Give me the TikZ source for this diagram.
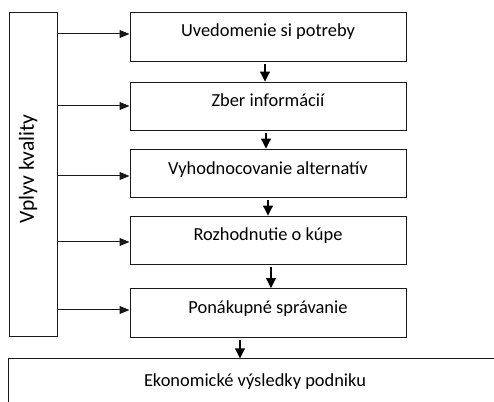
\documentclass[tikz,border=0pt]{standalone}
\usepackage{fontspec}
\setmainfont{Carlito}
\usetikzlibrary{arrows.meta,calc}
\begin{document}
\begin{tikzpicture}[x=0.75pt,y=-0.75pt,
  stepbox/.style={draw=black!90, line width=0.75pt, minimum width=207pt, minimum height=36.4pt, inner sep=0pt},
  sidebox/.style={draw=black!90, line width=0.75pt, minimum width=36.2pt, minimum height=243pt, inner sep=0pt},
  txt/.style={anchor=base, inner sep=0pt, font=\fontsize{13.8}{16}\selectfont},
  vtxt/.style={anchor=base, inner sep=0pt, rotate=90, font=\fontsize{16.2}{19}\selectfont},
  harrow/.style={draw=black!90, line width=0.75pt, -{Triangle[length=7.5pt,width=6pt]}},
  darrow/.style={draw=black, line width=1.8pt, shorten <=1.5pt, -{Triangle[length=7.5pt,width=7pt]}}]
\useasboundingbox (0,0) rectangle (494,402);
\clip (0,0) rectangle (494,402);
% boxes
\node[stepbox] (b1) at (268,37) {};
\node[stepbox] (b2) at (268,106.5) {};
\node[stepbox] (b3) at (268,173.5) {};
\node[stepbox] (b4) at (268,240.5) {};
\node[stepbox] (b5) at (268,313) {};
\node[sidebox] (vk) at (33.6,175) {};
\node[draw=black!90, line width=0.75pt, minimum width=383.6pt, minimum height=45.75pt, inner sep=0pt] (bot) at (264.2,389.5) {};
% texts
\node[txt] (t1) at (268,37) {Uvedomenie si potreby};
\node[txt] (t2) at (268,107) {Zber informácií};
\node[txt] (t3) at (268,175) {Vyhodnocovanie alternatív};
\node[txt] (t4) at (268,241) {Rozhodnutie o kúpe};
\node[txt] (t5) at (268,314) {Ponákupné správanie};
\node[txt] (t6) at (255,386.5) {Ekonomické výsledky podniku};
\node[vtxt] (tv) at (34,169) {Vplyv kvality};
% horizontal arrows
\draw[harrow] (vk.east |- 0,34) -- (b1.west |- 0,34);
\draw[harrow] (vk.east |- 0,106) -- (b2.west |- 0,106);
\draw[harrow] (vk.east |- 0,176) -- (b3.west |- 0,176);
\draw[harrow] (vk.east |- 0,242) -- (b4.west |- 0,242);
\draw[harrow] (vk.east |- 0,310) -- (b5.west |- 0,310);
% down arrows
\draw[darrow] ($(b1.south)+(-3,0)$) -- ($(b2.north)+(-3,0)$);
\draw[darrow] ($(b2.south)+(-2,0)$) -- ($(b3.north)+(-2,0)$);
\draw[darrow] ($(b3.south)+(0,0)$) -- ($(b4.north)+(0,0)$);
\draw[darrow] ($(b4.south)+(3,0)$) -- ($(b5.north)+(3,0)$);
\coordinate (c5) at ($(b5.south)+(-28,0)$);
\draw[darrow] (c5) -- (c5 |- bot.north);
\end{tikzpicture}
\end{document}
